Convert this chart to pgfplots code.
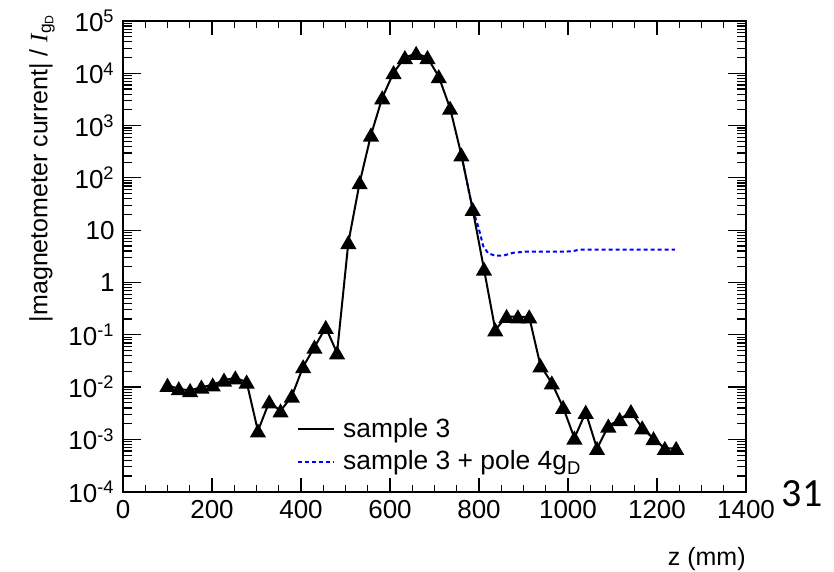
\documentclass[border=0pt]{standalone}
\usepackage{fontspec}
\setmainfont{Liberation Sans}
\newfontfamily\serifit{Liberation Serif}
\newfontfamily\slidefont{Carlito}
\usepackage{pgfplots}
\pgfplotsset{compat=1.18}

% 1 px of the reference = 0.5 pt
\begin{document}
\begin{tikzpicture}
\path (0pt,0pt) rectangle (417pt,286pt);
\begin{axis}[
    at={(61.5pt,40.15pt)}, anchor=south west,
    scale only axis, width=311.5pt, height=235.35pt,
    axis lines=box,
    ymode=log,
    xmin=0, xmax=1400, ymin=1e-4, ymax=1e5,
    xtick={0,200,400,600,800,1000,1200,1400},
    xticklabels={0,200,400,600,800,1000,1200,1400},
    ytick={1e-4,1e-3,1e-2,1e-1,1,10,100,1000,1e4,1e5},
    yticklabels={10\textsuperscript{-4},10\textsuperscript{-3},10\textsuperscript{-2},10\textsuperscript{-1},1,10,10\textsuperscript{2},10\textsuperscript{3},10\textsuperscript{4},10\textsuperscript{5}},
    tick align=inside,
    major tick length=0pt, minor tick length=0pt,
    axis line style={line width=0.8pt},
    tick label style={font=\fontsize{13}{15}\selectfont, inner sep=0pt},
    xticklabel style={anchor=north, yshift=-4pt},
    yticklabel style={anchor=east, xshift=-4pt},
    ylabel={|magnetometer current| / {\serifit\itshape I}\textsubscript{g\textsubscript{D}}},
    ylabel style={font=\fontsize{12.5}{14}\selectfont, at={(axis description cs:-0.130,1.017)}, anchor=east, inner sep=0pt},
    xlabel={z (mm)},
    xlabel style={font=\fontsize{12.5}{14}\selectfont, at={(axis description cs:1,-0.143)}, anchor=east, inner sep=0pt},
    legend style={draw=none, fill=none, at={(axis description cs:0.279,0.161)}, anchor=north west,
      font=\fontsize{13.2}{15}\selectfont, inner sep=0pt, row sep=3pt,
      nodes={inner sep=1pt}, /tikz/every odd column/.append style={column sep=3pt}},
    legend cell align=left,
  ]
  \addlegendimage{black, line width=1pt, legend image code/.code={\draw (0pt,0pt) -- (18pt,0pt);}}
  \addlegendentry{sample 3}
  \addlegendimage{blue, line width=1pt, dash pattern=on 2pt off 1.5pt, legend image code/.code={\draw (0pt,0pt) -- (18pt,0pt);}}
  \addlegendentry{sample 3 + pole 4g\textsubscript{D}}

  % tick marks on all four sides
  \pgfplotsinvokeforeach{0,200,400,600,800,1000,1200,1400}{
    \draw[line width=0.6pt] (axis cs:#1,1e-4) -- ++(0pt,7pt);
    \draw[line width=0.6pt] (axis cs:#1,1e5) -- ++(0pt,-7pt);
  }
  \pgfplotsinvokeforeach{50,100,150,250,300,350,450,500,550,650,700,750,850,900,950,1050,1100,1150,1250,1300,1350}{
    \draw[line width=0.6pt] (axis cs:#1,1e-4) -- ++(0pt,3.5pt);
    \draw[line width=0.6pt] (axis cs:#1,1e5) -- ++(0pt,-3.5pt);
  }
  \pgfplotsinvokeforeach{1e-4,1e-3,1e-2,1e-1,1,10,100,1000,1e4,1e5}{
    \draw[line width=0.6pt] (axis cs:0,#1) -- ++(9pt,0pt);
    \draw[line width=0.6pt] (axis cs:1400,#1) -- ++(-9pt,0pt);
  }
  \pgfplotsinvokeforeach{2e-4,3e-4,4e-4,5e-4,6e-4,7e-4,8e-4,9e-4,
                 2e-3,3e-3,4e-3,5e-3,6e-3,7e-3,8e-3,9e-3,
                 2e-2,3e-2,4e-2,5e-2,6e-2,7e-2,8e-2,9e-2,
                 0.2,0.3,0.4,0.5,0.6,0.7,0.8,0.9,
                 2,3,4,5,6,7,8,9,
                 20,30,40,50,60,70,80,90,
                 200,300,400,500,600,700,800,900,
                 2000,3000,4000,5000,6000,7000,8000,9000,
                 2e4,3e4,4e4,5e4,6e4,7e4,8e4,9e4}{
    \draw[line width=0.6pt] (axis cs:0,#1) -- ++(4.5pt,0pt);
    \draw[line width=0.6pt] (axis cs:1400,#1) -- ++(-4.5pt,0pt);
  }

  % sample 3 + pole 4g_D
  \addplot[blue, line width=1pt, dash pattern=on 2pt off 1.5pt, forget plot] coordinates {
    (760.4,275) (785.8,25) (798.4,11.7) (809.7,4.9) (820.9,3.6) (836,3.27)
    (854.6,3.27) (877,3.7) (907,3.9) (997,3.9) (1012,4.0) (1027,4.27) (1240,4.27)
  };
  % sample 3
  \addplot[black, line width=1pt, mark=triangle*, mark size=3.7pt,
    mark options={solid, fill=black, yshift=-0.9pt}, forget plot] coordinates {
    (100,0.0108) (125.4,0.0093) (150.8,0.0086) (176.2,0.0100) (201.6,0.0110)
    (227,0.0136) (252.4,0.0150) (277.8,0.0125) (303.2,0.00145) (328.6,0.0052)
    (354,0.0035) (379.4,0.0067) (404.8,0.0245) (430.2,0.058) (455.6,0.138)
    (481,0.045) (506.4,5.8) (531.8,81) (557.2,660) (582.6,3400)
    (608,10300) (633.4,20000) (658.8,24000) (684.2,20000) (709.6,8600)
    (735,2150) (760.4,275) (785.8,25) (811.2,1.8) (836.6,0.124)
    (862,0.224) (887.4,0.22) (912.8,0.22) (938.2,0.0255) (963.6,0.012)
    (989,0.0041) (1014.4,0.00106) (1039.8,0.0033) (1065.2,0.00067) (1090.6,0.0018)
    (1116,0.0024) (1141.4,0.0034) (1166.8,0.00166) (1192.2,0.00103) (1217.6,0.00067)
    (1243,0.00067)
  };
\end{axis}
\node[font=\slidefont\fontsize{20}{22}\selectfont, inner sep=0pt] at (401pt,39pt) {31};
\end{tikzpicture}
\end{document}
